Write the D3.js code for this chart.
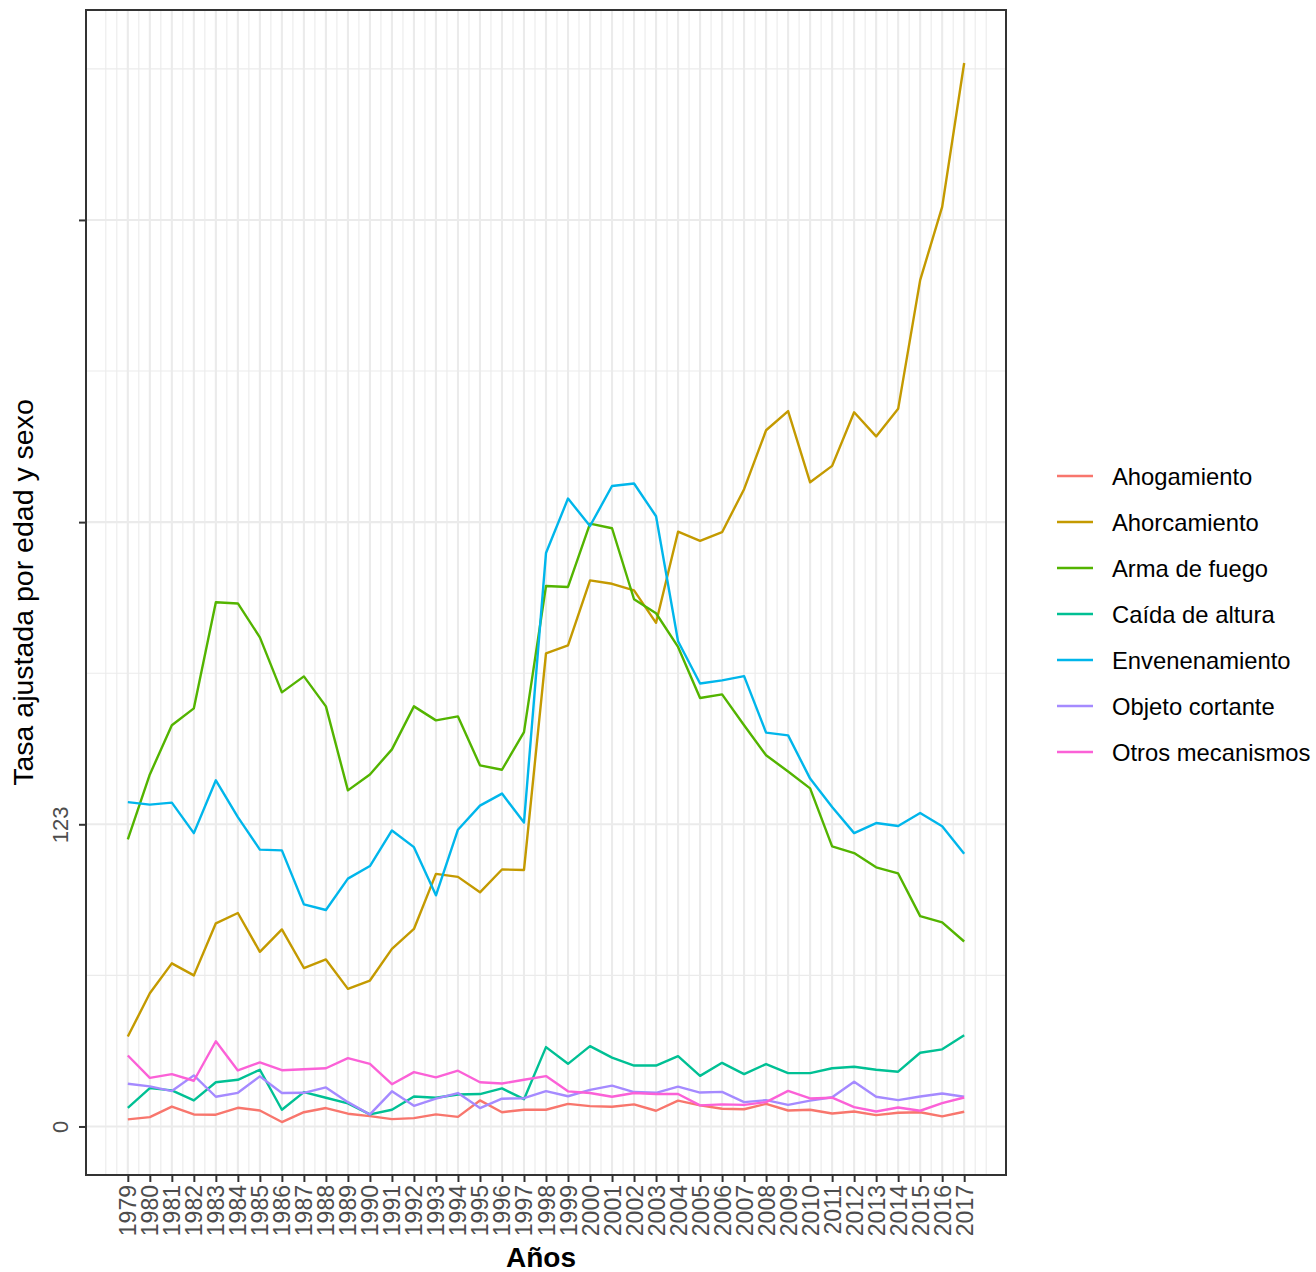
<!DOCTYPE html>
<html>
<head>
<meta charset="utf-8">
<script src="https://cdn.jsdelivr.net/npm/d3@7"></script>
<style>
  body { margin: 0; background: #fff; }
  svg { font-family: "Liberation Sans", Arial, sans-serif; }
</style>
</head>
<body>
<div id="chart"></div>
<script>
const years = d3.range(1979, 2018);

const ahogamiento = [2.9, 3.8, 8.1, 4.9, 4.8, 7.6, 6.5, 1.8, 5.8, 7.5, 5.2, 4.2, 3.0, 3.4, 4.9, 3.9, 10.6, 5.8, 6.8, 6.8, 9.2, 8.3, 8.0, 9.0, 6.4, 10.5, 8.6, 7.2, 7.0, 9.2, 6.5, 6.8, 5.3, 6.1, 4.6, 5.6, 5.8, 4.1, 6.0];
const ahorcamiento = [36.6, 54.2, 66.4, 61.5, 82.7, 86.9, 71.1, 80.2, 64.5, 68.0, 56.0, 59.4, 72.3, 80.4, 102.8, 101.6, 95.3, 104.6, 104.4, 192.6, 195.8, 222.3, 220.9, 218.2, 205.0, 242.1, 238.4, 241.9, 259.4, 283.4, 291.2, 262.2, 268.9, 290.7, 280.9, 292.1, 344.5, 374.3, 432.9];
const armaFuego = [116.9, 143.3, 163.3, 170.2, 213.4, 212.9, 199.1, 176.7, 183.2, 171.0, 136.8, 143.3, 153.5, 171.0, 165.3, 166.9, 147.0, 145.2, 160.5, 220.0, 219.6, 245.4, 243.5, 214.6, 208.9, 195.2, 174.4, 175.9, 163.3, 151.1, 144.5, 137.6, 114.0, 111.3, 105.5, 103.0, 85.6, 83.1, 75.3];
const caidaAltura = [7.6, 15.6, 14.7, 10.6, 18.0, 19.0, 23.1, 6.8, 14.0, 11.7, 9.4, 4.9, 6.8, 12.2, 11.7, 13.0, 13.2, 15.5, 11.1, 32.3, 25.5, 32.7, 28.0, 24.8, 24.8, 28.6, 20.6, 25.9, 21.3, 25.4, 21.7, 21.7, 23.7, 24.3, 23.1, 22.3, 30.0, 31.4, 37.1];
const envenenamiento = [132.0, 131.0, 131.8, 119.4, 140.9, 125.9, 112.7, 112.4, 90.4, 88.1, 100.9, 106.0, 120.5, 113.7, 94.1, 120.8, 130.6, 135.5, 123.7, 233.4, 255.6, 244.4, 260.7, 261.7, 248.4, 197.5, 180.3, 181.6, 183.3, 160.3, 159.2, 141.6, 130.0, 119.4, 123.5, 122.3, 127.6, 122.2, 111.0];
const objetoCortante = [17.4, 16.3, 14.4, 20.8, 12.1, 13.7, 20.4, 13.6, 13.7, 15.9, 9.9, 4.9, 14.3, 8.4, 11.3, 13.6, 7.5, 11.3, 11.5, 14.4, 12.3, 14.9, 16.6, 14.0, 13.7, 16.2, 13.8, 14.1, 9.9, 10.7, 8.8, 10.5, 11.9, 18.2, 12.1, 10.7, 12.2, 13.4, 12.1];
const otros = [28.9, 19.8, 21.3, 18.6, 34.7, 22.8, 26.1, 22.9, 23.3, 23.7, 27.8, 25.5, 17.2, 22.1, 20.0, 22.7, 18.0, 17.5, 19.0, 20.5, 14.3, 13.6, 12.1, 13.6, 13.2, 13.2, 8.6, 9.0, 8.8, 9.9, 14.5, 11.4, 11.7, 7.9, 6.1, 7.7, 6.4, 9.5, 11.8];

const seriesNames = ["Ahogamiento", "Ahorcamiento", "Arma de fuego", "Caída de altura", "Envenenamiento", "Objeto cortante", "Otros mecanismos"];
const seriesValues = [ahogamiento, ahorcamiento, armaFuego, caidaAltura, envenenamiento, objetoCortante, otros];
const colors = ["#F8766D", "#C49A00", "#53B400", "#00C094", "#00B6EB", "#A58AFF", "#FB61D7"];

const yBreaks = [0, 123, 246, 369];
const yLabels = ["0", "123", "", ""];

const width = 1316, height = 1272;
const panel = { left: 86, top: 10, right: 1006, bottom: 1175 };

const svg = d3.select("#chart").append("svg")
    .attr("width", width)
    .attr("height", height);

// ggplot-style 5% expansion
const xr = d3.extent(years);
const xpad = (xr[1] - xr[0]) * 0.05;
const x = d3.scaleLinear().domain([xr[0] - xpad, xr[1] + xpad]).range([panel.left, panel.right]);

const allVals = seriesValues.flat();
const yr = d3.extent(allVals);
const ypad = (yr[1] - yr[0]) * 0.05;
const y = d3.scaleLinear().domain([yr[0] - ypad, yr[1] + ypad]).range([panel.bottom, panel.top]);

const grid = svg.append("g");

// minor vertical lines every half year
const xMinor = d3.range(1978, 2018.01, 0.5).filter(v => years.indexOf(v) < 0);
grid.selectAll(".xminor").data(xMinor).join("line")
    .attr("x1", d => x(d)).attr("x2", d => x(d))
    .attr("y1", panel.top).attr("y2", panel.bottom)
    .attr("stroke", "#EBEBEB").attr("stroke-width", 1.1);

const yMinor = yBreaks.map(v => v + 61.5).filter(v => y(v) > panel.top);
grid.selectAll(".yminor").data(yMinor).join("line")
    .attr("x1", panel.left).attr("x2", panel.right)
    .attr("y1", d => y(d)).attr("y2", d => y(d))
    .attr("stroke", "#EBEBEB").attr("stroke-width", 1.1);

grid.selectAll(".xmajor").data(years).join("line")
    .attr("x1", d => x(d)).attr("x2", d => x(d))
    .attr("y1", panel.top).attr("y2", panel.bottom)
    .attr("stroke", "#EBEBEB").attr("stroke-width", 2.1);

grid.selectAll(".ymajor").data(yBreaks).join("line")
    .attr("x1", panel.left).attr("x2", panel.right)
    .attr("y1", d => y(d)).attr("y2", d => y(d))
    .attr("stroke", "#EBEBEB").attr("stroke-width", 2.1);

// lines
const line = d3.line().x((d, i) => x(years[i])).y(d => y(d));
svg.append("g").selectAll("path")
    .data(seriesValues)
    .join("path")
    .attr("d", line)
    .attr("fill", "none")
    .attr("stroke", (d, i) => colors[i])
    .attr("stroke-width", 2.4)
    .attr("stroke-linejoin", "round");

svg.append("rect")
    .attr("x", panel.left).attr("y", panel.top)
    .attr("width", panel.right - panel.left).attr("height", panel.bottom - panel.top)
    .attr("fill", "none").attr("stroke", "#333333").attr("stroke-width", 2);

// x axis
const xAxis = svg.append("g")
    .attr("transform", `translate(0,${panel.bottom})`)
    .call(d3.axisBottom(x).tickValues(years).tickFormat(d3.format("d")).tickSize(7).tickPadding(3));
xAxis.select(".domain").remove();
xAxis.selectAll(".tick line").attr("stroke", "#333333").attr("stroke-width", 2);
xAxis.selectAll(".tick text")
    .attr("font-size", 23)
    .attr("font-family", "Liberation Sans, Arial, sans-serif")
    .attr("fill", "#4D4D4D")
    .attr("text-anchor", "end")
    .attr("dy", null)
    .attr("transform", "translate(8,10) rotate(-90)")
    .attr("x", 0).attr("y", 0);

// y axis
const yAxis = svg.append("g")
    .attr("transform", `translate(${panel.left},0)`)
    .call(d3.axisLeft(y).tickValues(yBreaks).tickFormat((d, i) => yLabels[i]).tickSize(7));
yAxis.select(".domain").remove();
yAxis.selectAll(".tick line").attr("stroke", "#333333").attr("stroke-width", 2);
yAxis.selectAll(".tick text")
    .attr("font-size", 22)
    .attr("font-family", "Liberation Sans, Arial, sans-serif")
    .attr("fill", "#4D4D4D")
    .attr("text-anchor", "middle")
    .attr("dy", null)
    .attr("x", 0).attr("y", 0)
    .attr("transform", "translate(-18,0) rotate(-90)");

// titles
svg.append("text")
    .attr("x", (panel.left + panel.right) / 2 - 5)
    .attr("y", 1267)
    .attr("text-anchor", "middle")
    .attr("font-size", 28)
    .attr("font-weight", "bold")
    .text("Años");

svg.append("text")
    .attr("transform", `translate(33,${(panel.top + panel.bottom) / 2}) rotate(-90)`)
    .attr("text-anchor", "middle")
    .attr("font-size", 28.5)
    .text("Tasa ajustada por edad y sexo");

// legend
const legend = svg.append("g").attr("transform", "translate(1057,476)");
const rows = legend.selectAll("g").data(seriesNames).join("g")
    .attr("transform", (d, i) => `translate(0,${i * 46})`);
rows.append("line")
    .attr("x1", 0).attr("x2", 36)
    .attr("stroke", (d, i) => colors[i])
    .attr("stroke-width", 2.4);
rows.append("text")
    .attr("x", 55).attr("y", 8.5)
    .attr("font-size", 23.8)
    .attr("fill", "#000")
    .text(d => d);
</script>
</body>
</html>
